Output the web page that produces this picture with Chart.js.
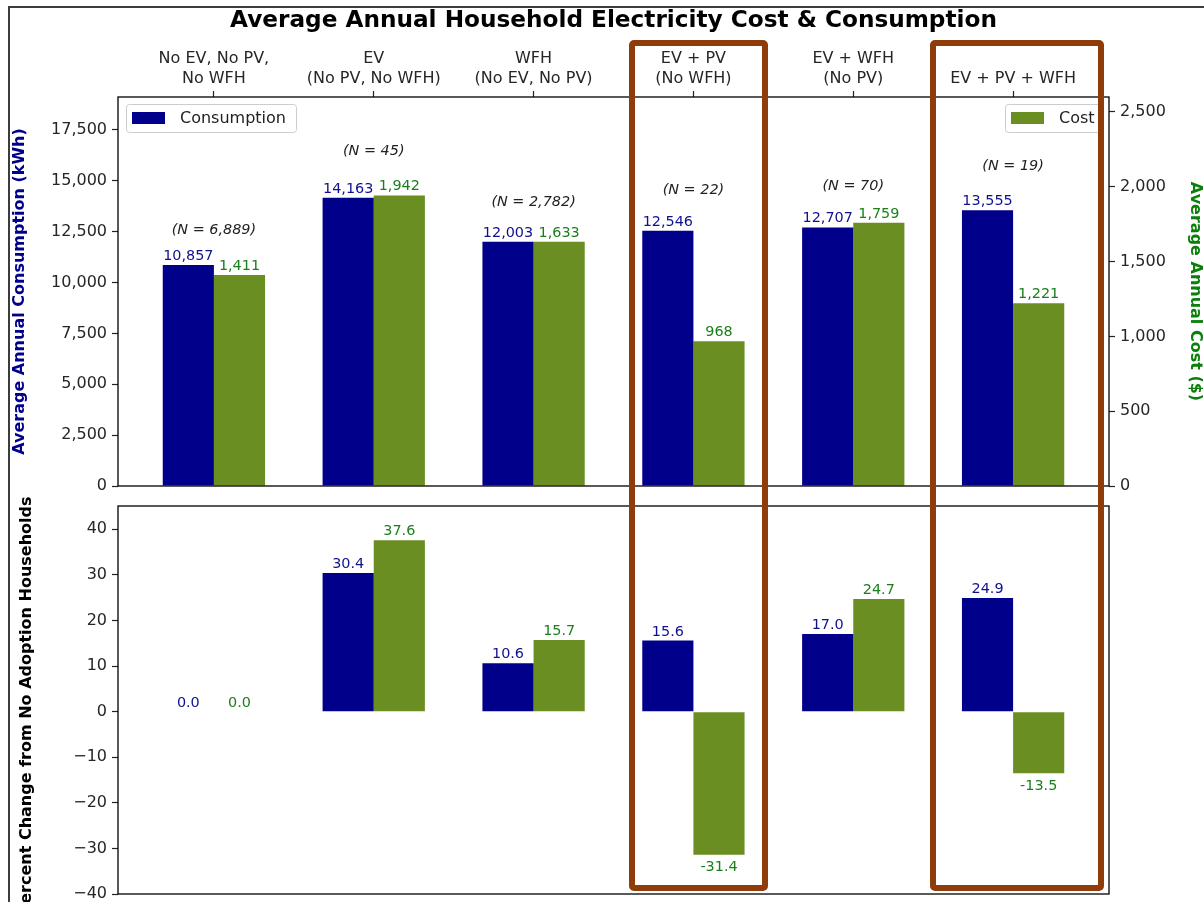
<!DOCTYPE html>
<html>
<head>
<meta charset="utf-8">
<script src="https://cdn.jsdelivr.net/npm/chart.js@4.4.1/dist/chart.umd.min.js"></script>
<style>
  html, body { margin: 0; padding: 0; background: #fff; }
  #wrap { position: relative; width: 1204px; height: 902px; overflow: hidden; }
  #wrap canvas { position: absolute; left: 0; }
  #cTop { top: 0; }
  #cBot { top: 490px; }
  .edge { position: absolute; background: #3c3c3c; }
  .hl { position: absolute; border: 6px solid #8f3c0b; border-radius: 5px; box-sizing: border-box; }
</style>
</head>
<body>
<div id="wrap">
  <canvas id="cTop" width="1204" height="490"></canvas>
  <canvas id="cBot" width="1204" height="412"></canvas>
  <div class="edge" style="left:8px;top:6px;width:2px;height:896px"></div>
  <div class="edge" style="left:8px;top:6px;width:1196px;height:2px"></div>
  <div class="hl" style="left:629px;top:40px;width:139px;height:851px"></div>
  <div class="hl" style="left:930px;top:40px;width:174px;height:851px"></div>
</div>
<script>
// ---- data ----
const categories = [
  ["No EV, No PV,", "No WFH"],
  ["EV", "(No PV, No WFH)"],
  ["WFH", "(No EV, No PV)"],
  ["EV + PV", "(No WFH)"],
  ["EV + WFH", "(No PV)"],
  ["EV + PV + WFH"]
];
const consumptionKwh = [10857, 14163, 12003, 12546, 12707, 13555];
const costUsd = [1411, 1942, 1633, 968, 1759, 1221];
const householdN = [6889, 45, 2782, 22, 70, 19];
const consumptionPct = [0.0, 30.4, 10.6, 15.6, 17.0, 24.9];
const costPct = [0.0, 37.6, 15.7, -31.4, 24.7, -13.5];

const kwhTicks = [0, 2500, 5000, 7500, 10000, 12500, 15000, 17500];
const usdTicks = [0, 500, 1000, 1500, 2000, 2500];
const pctTicks = [-40, -30, -20, -10, 0, 10, 20, 30, 40];
const kwhRange = { min: 0, max: 19120 };
const usdRange = { min: 0, max: 2600 };
const pctRange = { min: -40, max: 45.1 };
const xRange = { min: -0.6, max: 5.6 };

const NAVY = "#00008b", OLIVE = "#6b8e23";
const FONT = "'DejaVu Sans', sans-serif";

Chart.defaults.font.family = FONT;
Chart.defaults.font.size = 16;
Chart.defaults.color = "#262626";
Chart.defaults.animation = false;

const pts = arr => arr.map((v, i) => ({ x: i, y: v }));
const fixTicks = list => s => { s.ticks = list.map(v => ({ value: v })); };
// fixed axis width, and no extra room reserved for overhanging tick labels
const fixWidth = w => s => { s.width = w; s.paddingTop = 0; s.paddingBottom = 0; };
const catIdx = categories.map((_, i) => i);
const tickGrid = { drawOnChartArea: false, drawTicks: true, tickLength: 6, tickWidth: 1.2, tickColor: "#222", offset: false };

function txt(ctx, s, x, y, font, color, align, base, rot) {
  ctx.save();
  ctx.translate(x, y);
  if (rot) ctx.rotate(rot);
  ctx.font = font; ctx.fillStyle = color;
  ctx.textAlign = align; ctx.textBaseline = base;
  ctx.fillText(s, 0, 0);
  ctx.restore();
}

function legendBox(ctx, x, y, w, color, label) {
  ctx.save();
  ctx.beginPath();
  ctx.roundRect(x + 0.5, y + 0.5, w, 28, 3);
  ctx.fillStyle = "rgba(255,255,255,0.85)"; ctx.fill();
  ctx.strokeStyle = "#cccccc"; ctx.lineWidth = 1; ctx.stroke();
  ctx.fillStyle = color; ctx.fillRect(x + 6, y + 8, 33, 12);
  ctx.restore();
  txt(ctx, label, x + 54, y + 15, "16px " + FONT, "#222", "left", "middle");
}

// frame + bar value labels, plus whatever extra the panel needs
function makeDeco(fmt, extra) {
  return {
    id: "deco",
    afterDatasetsDraw(chart) {
      const { ctx, chartArea: a } = chart;
      ctx.save();
      ctx.strokeStyle = "#000"; ctx.lineWidth = 1.3;
      ctx.strokeRect(a.left, a.top, a.right - a.left, a.bottom - a.top);
      ctx.restore();
      chart.data.datasets.forEach((ds, d) => {
        chart.getDatasetMeta(d).data.forEach((bar, i) => {
          const v = ds.data[i].y;
          const y = v < 0 ? bar.y + 16.5 : bar.y - 5;
          txt(ctx, fmt(v), bar.x, y, "14.4px " + FONT, ds.labelColor, "center", "alphabetic");
        });
      });
      if (extra) extra(chart, ctx);
    }
  };
}

// ---- top panel: absolute values ----
new Chart(document.getElementById("cTop"), {
  type: "bar",
  data: {
    datasets: [
      { label: "Consumption", data: pts(consumptionKwh), backgroundColor: NAVY, yAxisID: "y", labelColor: "#10108f" },
      { label: "Cost", data: pts(costUsd), backgroundColor: OLIVE, yAxisID: "y1", labelColor: "#1a7f1a" }
    ]
  },
  options: {
    responsive: false,
    devicePixelRatio: 1,
    categoryPercentage: 0.64,
    barPercentage: 1.0,
    layout: { padding: { top: 0, right: 0, bottom: 4, left: 0 } },
    plugins: { legend: { display: false }, tooltip: { enabled: false } },
    scales: {
      x: {
        type: "linear", position: "top", offset: false,
        min: xRange.min, max: xRange.max,
        afterBuildTicks: fixTicks(catIdx),
        afterFit: s => { s.height = 97; s.paddingLeft = 0; s.paddingRight = 0; },
        grid: tickGrid, border: { display: false },
        ticks: {
          autoSkip: false, maxRotation: 0, minRotation: 0, padding: 3,
          font: { size: 16, lineHeight: 1.2 },
          callback: v => categories[v]
        }
      },
      y: {
        position: "left", min: kwhRange.min, max: kwhRange.max,
        afterBuildTicks: fixTicks(kwhTicks),
        afterFit: fixWidth(118),
        grid: tickGrid, border: { display: false },
        ticks: { padding: 5, callback: v => v.toLocaleString("en-US") }
      },
      y1: {
        position: "right", min: usdRange.min, max: usdRange.max,
        afterBuildTicks: fixTicks(usdTicks),
        afterFit: fixWidth(95),
        grid: tickGrid, border: { display: false },
        ticks: { padding: 5, callback: v => v.toLocaleString("en-US") }
      }
    }
  },
  plugins: [makeDeco(v => v.toLocaleString("en-US"), (chart, ctx) => {
    const a = chart.chartArea, xs = chart.scales.x, ys = chart.scales.y;
    txt(ctx, "Average Annual Household Electricity Cost & Consumption",
      (a.left + a.right) / 2, 21, "bold 23.2px " + FONT, "#000", "center", "middle");
    const mid = (a.top + a.bottom) / 2;
    txt(ctx, "Average Annual Consumption (kWh)", 20, mid, "bold 16px " + FONT, NAVY, "center", "middle", -Math.PI / 2);
    txt(ctx, "Average Annual Cost ($)", 1195, mid, "bold 16px " + FONT, "#0a800a", "center", "middle", Math.PI / 2);
    householdN.forEach((n, i) => {
      txt(ctx, "(N = " + n.toLocaleString("en-US") + ")", xs.getPixelForValue(i),
        ys.getPixelForValue(consumptionKwh[i] * 1.16), "italic 14.4px " + FONT, "#222", "center", "middle");
    });
    legendBox(ctx, a.left + 8, a.top + 7, 170, NAVY, "Consumption");
    legendBox(ctx, a.right - 104, a.top + 7, 97, OLIVE, "Cost");
  })]
});

// ---- bottom panel: percent change ----
new Chart(document.getElementById("cBot"), {
  type: "bar",
  data: {
    datasets: [
      { label: "Consumption", data: pts(consumptionPct), backgroundColor: NAVY, labelColor: "#10108f" },
      { label: "Cost", data: pts(costPct), backgroundColor: OLIVE, labelColor: "#1a7f1a" }
    ]
  },
  options: {
    responsive: false,
    devicePixelRatio: 1,
    categoryPercentage: 0.64,
    barPercentage: 1.0,
    layout: { padding: { top: 16, right: 95, bottom: 8, left: 0 } },
    plugins: { legend: { display: false }, tooltip: { enabled: false } },
    scales: {
      x: {
        type: "linear", display: false, offset: false,
        min: xRange.min, max: xRange.max,
        afterBuildTicks: fixTicks(catIdx),
        grid: { offset: false }
      },
      y: {
        min: pctRange.min, max: pctRange.max,
        afterBuildTicks: fixTicks(pctTicks),
        afterFit: fixWidth(118),
        grid: tickGrid, border: { display: false },
        ticks: { padding: 5, callback: v => String(v).replace("-", "\u2212") }
      }
    }
  },
  plugins: [makeDeco(v => v.toFixed(1), (chart, ctx) => {
    const a = chart.chartArea;
    txt(ctx, "Percent Change from No Adoption Households", 27, (a.top + a.bottom) / 2 + 6,
      "bold 16px " + FONT, "#000", "center", "middle", -Math.PI / 2);
  })]
});
</script>
</body>
</html>
